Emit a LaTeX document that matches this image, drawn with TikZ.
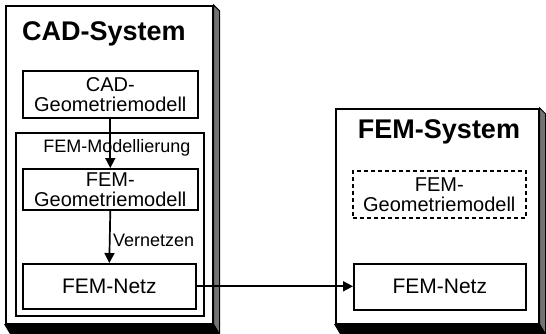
\documentclass[tikz,border=0pt]{standalone}
\usepackage{fontspec}
\setmainfont{Liberation Sans}
\usetikzlibrary{arrows.meta,calc}
\tikzset{
  sysbox/.style={draw=black, line width=1.7pt, inner sep=0pt, anchor=north west},
  inbox/.style={draw=black, line width=1.6pt, inner sep=0pt, anchor=north west, align=center,
     font=\fontsize{20}{20}\selectfont},
  dashbox/.style={inbox, dash pattern=on 4pt off 3pt},
  title/.style={font=\fontsize{27}{30}\selectfont\bfseries, inner sep=0pt},
  lbl/.style={font=\fontsize{18}{20}\selectfont, inner sep=0pt},
  arr/.style={line width=1.7pt, -{Triangle[length=10pt,width=10pt]}},
  side/.style={fill=black!55, draw=black, line width=1pt},
  bottom/.style={fill=black, draw=black, line width=1pt}
}
\begin{document}
\begin{tikzpicture}[x=1pt,y=-1pt]
\useasboundingbox[fill=white] (0,0) rectangle (546,334);

% outer systems
\node[sysbox, minimum width=207pt, minimum height=318pt] (cadsys) at (5,5) {};
\node[sysbox, minimum width=203pt, minimum height=215pt] (femsys) at (335,108) {};

\foreach \s in {cadsys,femsys}{
  \draw[side] (\s.north east) -- ($(\s.north east)+(6,6)$) -- ($(\s.south east)+(6,10)$) -- (\s.south east) -- cycle;
  \draw[bottom] (\s.south west) -- (\s.south east) -- ($(\s.south east)+(6,10)$) -- ($(\s.south west)+(6,10)$) -- cycle;
}

\node[title] (cadtitle) at (104,34) {CAD-System};
\node[title] (femtitle) at (439,132) {FEM-System};

% left inner
\node[inbox, minimum width=175pt, minimum height=47pt] (cadgeo) at (22,70) {CAD-\\Geometriemodell};
\node[sysbox, line width=1.6pt, minimum width=188pt, minimum height=183pt] (femmod) at (15,132) {};
\node[lbl] (modlbl) at (117,148) {FEM-Modellierung};
\node[inbox, minimum width=175pt, minimum height=41pt] (femgeo) at (22,168) {FEM-\\Geometriemodell};
\node[lbl, anchor=west] (vernlbl) at (113,240) {Vernetzen};
\node[inbox, font=\fontsize{21}{22}\selectfont, minimum width=173pt, minimum height=45pt] (netzL) at (22,263) {FEM-Netz};

% right inner
\node[dashbox, minimum width=173pt, minimum height=47pt] (femgeoR) at (352,170) {FEM-\\Geometriemodell};
\node[inbox, font=\fontsize{21}{22}\selectfont, minimum width=172pt, minimum height=46pt] (netzR) at (353,263) {FEM-Netz};

% connectors
\draw[arr] (cadgeo.south) -- (femgeo.north);
\draw[arr] (femgeo.south) -- (netzL.north);
\draw[arr] (netzL.east) -- (netzL.east -| netzR.west);
\end{tikzpicture}
\end{document}
